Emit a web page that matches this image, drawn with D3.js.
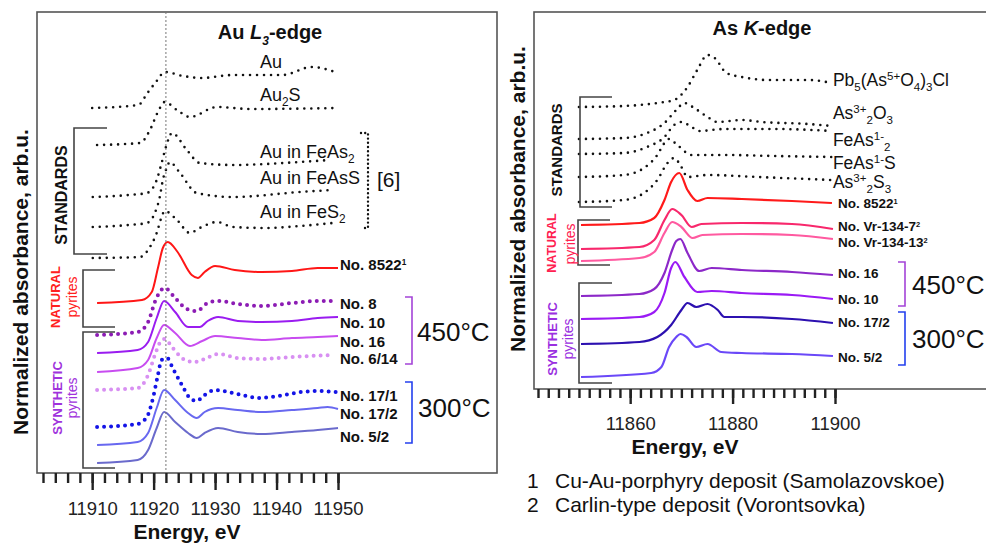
<!DOCTYPE html>
<html lang="en">
<head>
<meta charset="UTF-8">
<title>Au L3-edge and As K-edge XANES</title>
<style>
  * { margin: 0; padding: 0; box-sizing: border-box; }
  body { background: #fff; width: 986px; height: 543px; overflow: hidden; }
  svg { display: block; font-family: "Liberation Sans", Arial, sans-serif; }
</style>
<script src="https://cdnjs.cloudflare.com/ajax/libs/d3/7.8.5/d3.min.js"></script>
</head>
<body>
<svg id="chart" width="986" height="543"></svg>
<script>
// ---- Au L3-edge: [energy eV, normalized absorbance + offset] ----
const au_Au = [[11910,9.125],[11917.5,9.2],[11919,9.5],[11920.5,9.8],[11921.8,10.025],[11924.8,9.925],[11927.7,9.875],[11933,9.95],[11941,9.95],[11945.7,10.15],[11950,10.0]];
const au_Au2S = [[11910.8,8.2],[11917.8,8.25],[11919.4,8.575],[11920.7,9.025],[11921.8,9.275],[11923.8,9.075],[11925.9,8.9],[11930.3,9.15],[11935.7,9.1],[11950,9.125]];
const au_FeAs2 = [[11910.1,6.9],[11916,6.95],[11918.9,7.0],[11920.5,7.325],[11921.3,7.75],[11922,8.15],[11923,8.5],[11925.4,8.075],[11927.5,7.75],[11932.9,7.7],[11943.8,7.775],[11948.7,7.825]];
const au_FeAsS = [[11910.1,6.15],[11916,6.2],[11918.9,6.25],[11920.2,6.5],[11921,6.9],[11921.5,7.325],[11922.2,7.65],[11922.6,7.775],[11924.3,7.5],[11927,7.0],[11932.9,6.9],[11943.8,7.025],[11949,7.075]];
const au_FeS2 = [[11910.1,5.375],[11917.8,5.4],[11919.4,5.65],[11920.5,6.0],[11921.3,6.4],[11921.8,6.55],[11923.8,6.325],[11925.9,6.0],[11927.5,6.125],[11930.3,6.275],[11932.9,6.15],[11938.4,6.125],[11943.8,6.175],[11949.2,6.25]];

const au_8522 = [[11910.8,4.25],[11918.1,4.325],[11919.7,4.525],[11920.7,5.125],[11921.5,5.625],[11922.3,5.775],[11923.9,5.525],[11926.2,4.95],[11927.2,4.875],[11928.3,5.025],[11930,5.175],[11933.2,5.075],[11937.6,5.025],[11942.5,5.05],[11946.7,5.125],[11950,5.125]];
const au_8 = [[11910.8,3.45],[11917.4,3.525],[11919.1,3.775],[11920.2,4.275],[11921,4.525],[11921.8,4.625],[11923.5,4.375],[11925.4,4.1],[11927,4.05],[11928.8,4.25],[11930.5,4.3],[11933.7,4.225],[11937.6,4.175],[11942.5,4.25],[11946.7,4.3],[11949.8,4.3]];
const au_10 = [[11910.8,3.0],[11917.4,3.075],[11919.1,3.275],[11920.5,3.875],[11921.7,4.3],[11923.5,4.025],[11925.6,3.65],[11927.5,3.65],[11928.8,3.8],[11930.5,3.9],[11933.7,3.8],[11937.6,3.775],[11942.5,3.8],[11946.7,3.875],[11950,3.9]];
const au_16 = [[11910.8,2.525],[11917.4,2.625],[11919.1,2.825],[11920.5,3.375],[11921.7,3.7],[11923.5,3.5],[11925.9,3.175],[11927.9,3.3],[11930,3.425],[11933.7,3.375],[11937.6,3.325],[11942.5,3.375],[11946.7,3.4],[11950,3.425]];
const au_6_14 = [[11910.8,2.075],[11917.4,2.125],[11919.1,2.45],[11920.2,2.95],[11921.2,3.3],[11921.8,3.35],[11923.1,3.125],[11925.1,2.825],[11926.7,2.775],[11928.3,2.85],[11930.5,2.975],[11933.7,2.875],[11937.6,2.85],[11942.5,2.9],[11949,2.95]];
const au_17_1 = [[11910.8,1.15],[11917.4,1.225],[11918.9,1.4],[11919.9,1.875],[11920.7,2.45],[11921.3,2.825],[11922.2,2.875],[11923.1,2.625],[11924.6,2.2],[11925.9,1.875],[11927,1.8],[11928.3,1.95],[11930,2.075],[11932.1,2.025],[11934.4,1.95],[11937,1.875],[11940.2,1.925],[11944.1,2.025],[11946.7,2.05],[11949.8,2.025]];
const au_17_2 = [[11910.8,0.7],[11917.4,0.775],[11919.1,1.0],[11920.5,1.625],[11921.7,2.075],[11923.5,1.825],[11925.6,1.5],[11927,1.375],[11928.3,1.525],[11930.5,1.625],[11933.7,1.575],[11937.6,1.525],[11942.5,1.575],[11946.7,1.625],[11948.3,1.65],[11950,1.6]];
const au_5_2 = [[11910.8,0.25],[11917.4,0.325],[11919.1,0.575],[11920.5,1.125],[11921.7,1.525],[11923.5,1.275],[11925.6,1.0],[11927,0.875],[11928.3,1.0],[11930.5,1.125],[11933.7,1.025],[11937.6,0.975],[11942.5,1.025],[11946.7,1.075],[11950,1.125]];

// ---- As K-edge ----
const as_Pb = [[11850,7.05],[11858.8,7.075],[11865.3,7.15],[11868.6,7.225],[11871.2,7.55],[11873.1,7.975],[11875.1,8.35],[11876.5,8.275],[11878.8,7.9],[11881.8,7.8],[11886.9,7.725],[11894.7,7.725],[11899.4,7.65]];
const as_As2O3 = [[11850,6.25],[11858.8,6.275],[11863.3,6.4],[11866.7,6.65],[11869,6.975],[11870.6,7.15],[11872.5,7.025],[11875.1,6.8],[11877,6.675],[11881.8,6.725],[11885.7,6.675],[11894.7,6.625],[11899.4,6.575]];
const as_FeAs2 = [[11850,5.875],[11858.8,5.9],[11863.3,6.05],[11866.7,6.3],[11868.6,6.6],[11870,6.675],[11872,6.55],[11873.5,6.45],[11878.4,6.5],[11888.2,6.5],[11899.4,6.45]];
const as_FeAsS = [[11850,5.3],[11858.8,5.35],[11862.7,5.525],[11865.3,5.85],[11866.7,6.15],[11867.6,6.25],[11869.2,6.1],[11872,5.85],[11878.4,5.85],[11888.2,5.825],[11899.4,5.8]];
const as_As2S3 = [[11850,4.675],[11858.8,4.725],[11862.7,4.9],[11865.3,5.225],[11867.3,5.65],[11868.6,5.775],[11870,5.55],[11871.2,5.3],[11875.1,5.35],[11884.9,5.3],[11899.4,5.225]];

const as_8522 = [[11850.4,4.1],[11861.8,4.15],[11864.7,4.275],[11866.7,4.725],[11868,5.175],[11869.6,5.4],[11871.2,4.975],[11873.1,4.7],[11875.1,4.775],[11881.8,4.75],[11891.6,4.7],[11899.4,4.65]];
const as_Vr7 = [[11850.4,3.5],[11861.8,3.55],[11864.7,3.725],[11866.7,4.225],[11868.2,4.5],[11870,4.35],[11872,4.05],[11873.9,4.125],[11881.8,4.15],[11891.6,4.125],[11899.6,4.0]];
const as_Vr13 = [[11850.4,3.2],[11861.8,3.275],[11864.7,3.425],[11866.7,3.9],[11868.2,4.175],[11870,4.05],[11872.2,3.775],[11874.1,3.85],[11881.8,3.875],[11891.6,3.85],[11899.6,3.75]];
const as_16 = [[11850.4,2.325],[11861.8,2.375],[11864.7,2.5],[11866.7,2.9],[11868.2,3.475],[11869,3.7],[11869.8,3.75],[11871.2,3.4],[11873.5,2.95],[11875.9,3.025],[11881.8,2.975],[11891.6,2.925],[11899.6,2.85]];
const as_10 = [[11850.4,1.75],[11861.8,1.8],[11864.7,1.925],[11866.7,2.4],[11868,3.025],[11868.8,3.175],[11870.6,2.8],[11873.1,2.425],[11875.9,2.45],[11881.8,2.4],[11891.6,2.35],[11899.6,2.25]];
const as_17_2 = [[11850.4,1.125],[11861.8,1.175],[11865.3,1.3],[11868,1.6],[11870,1.975],[11871.2,2.15],[11872.9,2.05],[11875.1,2.125],[11877.1,1.975],[11878.4,1.8],[11881.8,1.8],[11891.6,1.75],[11899.6,1.65]];
const as_5_2 = [[11850.4,0.3],[11864.1,0.4],[11866.1,0.55],[11867.6,1.05],[11869,1.3],[11869.8,1.375],[11871,1.3],[11872.9,1.05],[11875.1,1.125],[11877.8,0.925],[11881.8,0.9],[11891.6,0.875],[11899.6,0.825]];

// axis ticks
const auMinorTicks = d3.range(11902, 11951, 2);
const auMajorTicks = [11910, 11920, 11930, 11940, 11950];
const asMinorTicks = d3.range(11842, 11901, 2);
const asMajorTicks = [11860, 11880, 11900];
const auEdgeEnergy = 11922;

// labels: text parts [text, 'sub'|'sup'|'', italic], anchor in data units
const auStdLabels = [
  { parts: [['Au']], e: 11937.3, v: 10.275 },
  { parts: [['Au'], ['2', 'sub'], ['S']], e: 11937.3, v: 9.45 },
  { parts: [['Au in FeAs'], ['2', 'sub']], e: 11937.3, v: 8.025 },
  { parts: [['Au in FeAsS']], e: 11937.3, v: 7.375 },
  { parts: [['Au in FeS'], ['2', 'sub']], e: 11937.3, v: 6.525 }
];
const auSampleLabels = [
  { parts: [['No. 8522'], ['1', 'sup']], v: 5.2 },
  { parts: [['No. 8']], v: 4.225 },
  { parts: [['No. 10']], v: 3.75 },
  { parts: [['No. 16']], v: 3.275 },
  { parts: [['No. 6/14']], v: 2.85 },
  { parts: [['No. 17/1']], v: 1.925 },
  { parts: [['No. 17/2']], v: 1.475 },
  { parts: [['No. 5/2']], v: 0.9 }
];
const asStdLabels = [
  { parts: [['Pb'], ['5', 'sub'], ['(As'], ['5+', 'sup'], ['O'], ['4', 'sub'], [')'], ['3', 'sub'], ['Cl']], v: 7.725 },
  { parts: [['As'], ['3+', 'sup'], ['2', 'sub'], ['O'], ['3', 'sub']], v: 6.9 },
  { parts: [['FeAs'], ['1-', 'sup'], ['2', 'sub']], v: 6.225 },
  { parts: [['FeAs'], ['1-', 'sup'], ['S']], v: 5.65 },
  { parts: [['As'], ['3+', 'sup'], ['2', 'sub'], ['S'], ['3', 'sub']], v: 5.175 }
];
const asSampleLabels = [
  { parts: [['No. 8522'], ['1', 'sup']], v: 4.65 },
  { parts: [['No. Vr-134-7'], ['2', 'sup']], v: 4.07 },
  { parts: [['No. Vr-134-13'], ['2', 'sup']], v: 3.68 },
  { parts: [['No. 16']], v: 2.9 },
  { parts: [['No. 10']], v: 2.25 },
  { parts: [['No. 17/2']], v: 1.675 },
  { parts: [['No. 5/2']], v: 0.8 }
];

const svg = d3.select('#chart');
const PURPLE_T = '#a032dc';

function richText(g, x, yc, parts, fs, opts = {}) {
  const t = g.append('text')
    .attr('x', x).attr('y', yc + fs * 0.35)
    .attr('font-size', fs)
    .attr('font-weight', opts.bold ? 'bold' : 'normal')
    .attr('text-anchor', opts.anchor || 'start')
    .attr('fill', opts.fill || '#111');
  let shift = 0;
  const supRaise = opts.supRaise || 0.36;
  parts.forEach(([txt, mode, italic]) => {
    const target = mode === 'sub' ? fs * 0.28 : mode === 'sup' ? -fs * supRaise : 0;
    const sp = t.append('tspan')
      .attr('dy', target - shift)
      .attr('font-size', mode ? fs * (opts.scriptScale || 0.66) : fs)
      .text(txt);
    if (italic) sp.attr('font-style', 'italic');
    shift = target;
  });
  return t;
}

function vText(g, x, y, txt, fs, weight, fill) {
  g.append('text')
    .attr('transform', `translate(${x},${y}) rotate(-90)`)
    .attr('text-anchor', 'middle')
    .attr('dy', '0.35em')
    .attr('font-size', fs)
    .attr('font-weight', weight)
    .attr('fill', fill)
    .text(txt);
}

// "[" bracket opening to the right (dir 1) or "]" opening to the left (dir -1)
function bracket(g, x, y0, y1, len, dir, color, dash) {
  const p = g.append('path')
    .attr('d', `M${x + dir * len},${y0}H${x}V${y1}H${x + dir * len}`)
    .attr('fill', 'none')
    .attr('stroke', color)
    .attr('stroke-width', dash ? 2.4 : 1.6);
  if (dash) p.attr('stroke-dasharray', '0 4.2').attr('stroke-linecap', 'round');
}

function panel(cfg) {
  const g = svg.append('g');
  const b = cfg.box;
  const x = d3.scaleLinear().domain(cfg.xDomain).range(cfg.xRange);
  const y = d3.scaleLinear().domain(cfg.yDomain).range([b.y1, b.y0]);

  g.append('rect')
    .attr('x', b.x0).attr('y', b.y0)
    .attr('width', b.x1 - b.x0).attr('height', b.y1 - b.y0)
    .attr('fill', 'none').attr('stroke', '#555').attr('stroke-width', 1.6);

  const styleAxis = a => {
    a.attr('font-size', null).attr('font-family', null);
    a.select('.domain').remove();
    a.selectAll('.tick line').attr('stroke', '#222').attr('stroke-width', 2.4);
    a.selectAll('.tick text').attr('fill', '#222')
      .style('font-size', '18.5px')
      .style('font-family', '"Liberation Sans", Arial, sans-serif');
  };
  g.append('g').attr('transform', `translate(0,${b.y1})`)
    .call(d3.axisBottom(x).tickValues(cfg.minor).tickSize(cfg.minorLen).tickFormat(''))
    .call(styleAxis);
  g.append('g').attr('transform', `translate(0,${b.y1})`)
    .call(d3.axisBottom(x).tickValues(cfg.major).tickSize(cfg.majorLen).tickPadding(cfg.pad).tickFormat(d3.format('d')))
    .call(styleAxis);

  g.append('text')
    .attr('x', cfg.xTitle[0]).attr('y', cfg.xTitle[1])
    .attr('text-anchor', 'middle').attr('dy', '0.35em')
    .attr('font-size', 21).attr('font-weight', 'bold').attr('fill', '#111')
    .text('Energy, eV');
  vText(g, cfg.yTitle[0], cfg.yTitle[1], 'Normalized absorbance, arb.u.', 21, 'bold', '#111');
  richText(g, cfg.title[0], cfg.title[1], cfg.titleParts, 20, { bold: true, anchor: 'middle', scriptScale: 0.6 });

  const line = d3.line().x(d => x(d[0])).y(d => y(d[1])).curve(d3.curveMonotoneX);
  cfg.series.forEach(s => {
    const p = g.append('path').datum(s.data)
      .attr('d', line)
      .attr('fill', 'none')
      .attr('stroke', s.color)
      .attr('stroke-width', s.width)
      .attr('stroke-linejoin', 'round');
    if (s.dots) p.attr('stroke-dasharray', `0 ${s.dots}`).attr('stroke-linecap', 'round');
  });
  return { g, x, y };
}

// ---------- left panel: Au L3-edge ----------
const black = '#111';
const L = panel({
  box: { x0: 37, y0: 12, x1: 497, y1: 473 },
  xDomain: [11902, 11950], xRange: [43, 338],
  yDomain: [0, 11.525],
  minor: auMinorTicks, major: auMajorTicks, minorLen: 10, majorLen: 17, pad: 12,
  xTitle: [187, 532], yTitle: [21, 282],
  title: [270, 32], titleParts: [['Au '], ['L', '', true], ['3', 'sub', true], ['-edge']],
  series: [
    { data: au_Au, color: black, width: 2.6, dots: 7 },
    { data: au_Au2S, color: black, width: 2.6, dots: 7 },
    { data: au_FeAs2, color: black, width: 2.6, dots: 7 },
    { data: au_FeAsS, color: black, width: 2.6, dots: 7 },
    { data: au_FeS2, color: black, width: 2.6, dots: 7 },
    { data: au_8522, color: '#ff1616', width: 2 },
    { data: au_8, color: '#8c1cb4', width: 4, dots: 7 },
    { data: au_10, color: '#9a1cf0', width: 2 },
    { data: au_16, color: '#c84cf0', width: 2 },
    { data: au_6_14, color: '#d890f2', width: 4, dots: 7 },
    { data: au_17_1, color: '#1414e6', width: 4, dots: 7 },
    { data: au_17_2, color: '#6868f0', width: 2 },
    { data: au_5_2, color: '#6a6acc', width: 2 }
  ]
});

L.g.append('line')
  .attr('x1', L.x(auEdgeEnergy)).attr('x2', L.x(auEdgeEnergy))
  .attr('y1', 12).attr('y2', 473)
  .attr('stroke', '#777').attr('stroke-width', 1).attr('stroke-dasharray', '2 2');

auStdLabels.forEach(l => richText(L.g, L.x(l.e), L.y(l.v), l.parts, 18));
auSampleLabels.forEach(l => richText(L.g, L.x(11950) + 2, L.y(l.v), l.parts, 15, { bold: true, scriptScale: 0.55 }));

bracket(L.g, 368, 133, 228, 7, -1, black, true);
richText(L.g, 377, 180, [['[6]']], 21);

bracket(L.g, 74, 128, 254, 33, 1, '#444');
vText(L.g, 61, 195, 'STANDARDS', 16, 'bold', black);
bracket(L.g, 83, 270, 327, 32, 1, '#444');
vText(L.g, 55, 297, 'NATURAL', 13, 'bold', '#ff2020');
vText(L.g, 72, 297, 'pyrites', 14, 'normal', '#ff2020');
bracket(L.g, 83, 332, 468, 32, 1, '#444');
vText(L.g, 57, 398, 'SYNTHETIC', 13, 'bold', PURPLE_T);
vText(L.g, 72, 398, 'pyrites', 14, 'normal', PURPLE_T);

bracket(L.g, 412, 297, 364, 7, -1, '#a444d8');
richText(L.g, 417, 332, [['450°C']], 26);
bracket(L.g, 412, 382, 443, 7, -1, '#2440ee');
richText(L.g, 418, 408, [['300°C']], 26);

// ---------- right panel: As K-edge ----------
const R = panel({
  box: { x0: 534, y0: 12, x1: 992, y1: 389 },
  xDomain: [11842, 11900], xRange: [538, 835],
  yDomain: [0, 9.425],
  minor: asMinorTicks, major: asMajorTicks, minorLen: 9, majorLen: 15, pad: 13,
  xTitle: [685, 447], yTitle: [518, 199],
  title: [762, 28], titleParts: [['As '], ['K', '', true], ['-edge']],
  series: [
    { data: as_Pb, color: black, width: 2.6, dots: 7 },
    { data: as_As2O3, color: black, width: 2.6, dots: 7 },
    { data: as_FeAs2, color: black, width: 2.6, dots: 7 },
    { data: as_FeAsS, color: black, width: 2.6, dots: 7 },
    { data: as_As2S3, color: black, width: 2.6, dots: 7 },
    { data: as_8522, color: '#ff1a1a', width: 2.2 },
    { data: as_Vr7, color: '#f8286c', width: 2.2 },
    { data: as_Vr13, color: '#ff5aa0', width: 2.2 },
    { data: as_16, color: '#8c28c8', width: 2.2 },
    { data: as_10, color: '#9a1af5', width: 2.2 },
    { data: as_17_2, color: '#2c10b0', width: 2.2 },
    { data: as_5_2, color: '#6a48f8', width: 2.2 }
  ]
});

asStdLabels.forEach(l => richText(R.g, R.x(11899.4) + 1, R.y(l.v), l.parts, 17.5));
asSampleLabels.forEach(l => richText(R.g, R.x(11899.6) + 5, R.y(l.v), l.parts, 13.5, { bold: true, scriptScale: 0.55, supRaise: 0.28 }));

bracket(R.g, 580, 97, 207, 32, 1, '#444');
vText(R.g, 557, 150, 'STANDARDS', 15, 'bold', black);
bracket(R.g, 578, 220, 265, 32, 1, '#444');
vText(R.g, 552, 243, 'NATURAL', 12.5, 'bold', '#ff2050');
vText(R.g, 570, 244, 'pyrites', 14, 'normal', '#ff2050');
bracket(R.g, 579, 283, 383, 33, 1, '#444');
vText(R.g, 552, 339, 'SYNTHETIC', 13, 'bold', '#9a30e0');
vText(R.g, 568, 339, 'pyrites', 14, 'normal', '#9a30e0');

bracket(R.g, 905, 262, 306, 7, -1, '#a444d8');
richText(R.g, 912, 285, [['450°C']], 26);
bracket(R.g, 905, 312, 365, 7, -1, '#2440ee');
richText(R.g, 912, 339, [['300°C']], 26);

// footnotes
const notes = svg.append('g').attr('font-size', 21).attr('fill', '#111');
notes.append('text').attr('x', 527).attr('y', 488).text('1');
notes.append('text').attr('x', 555).attr('y', 488).text('Cu-Au-porphyry deposit (Samolazovskoe)');
notes.append('text').attr('x', 527).attr('y', 512).text('2');
notes.append('text').attr('x', 555).attr('y', 512).text('Carlin-type deposit (Vorontsovka)');
</script>
</body>
</html>
